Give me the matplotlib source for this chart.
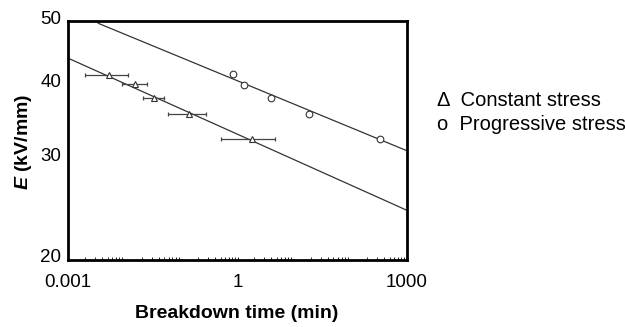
import matplotlib
matplotlib.use('Agg')
import matplotlib.pyplot as plt
import matplotlib.transforms as mtransforms
import numpy as np

plt.rcParams['font.family'] = ['Liberation Sans', 'DejaVu Sans']
plt.rcParams['mathtext.fontset'] = 'custom'
plt.rcParams['mathtext.it'] = 'Liberation Sans:italic:bold'
plt.rcParams['mathtext.rm'] = 'Liberation Sans:bold'

# constant stress (triangles) with horizontal scatter bars
t_const = [0.0053, 0.0153, 0.0327, 0.14, 1.83]
t_const_lo = [0.0020, 0.0091, 0.0208, 0.059, 0.51]
t_const_hi = [0.0116, 0.0252, 0.0498, 0.276, 4.62]
E_const = [40.6, 39.2, 37.2, 35.0, 31.8]

# progressive stress (circles)
t_prog = [0.83, 1.32, 3.88, 18.5, 340]
E_prog = [40.7, 39.15, 37.2, 35.0, 31.8]

# fitted lines (end points)
fit_prog_t = [0.0034, 1000]
fit_prog_E = [49.5, 30.4]
fit_const_t = [0.001, 1000]
fit_const_E = [43.3, 24.2]

yticks = [20, 30, 40, 50]
ytick_labels = ['20', '30', '40', '50']

fig = plt.figure(figsize=(6.25, 3.27), dpi=100)
ax = fig.add_axes([68.3 / 625, 1 - 260 / 327, (406.7 - 68.3) / 625, (260 - 20.7) / 327])

line_col = '#333333'
ax.plot(fit_prog_t, fit_prog_E, color=line_col, lw=0.9)
ax.plot(fit_const_t, fit_const_E, color=line_col, lw=0.9)

xerr = [np.array(t_const) - np.array(t_const_lo), np.array(t_const_hi) - np.array(t_const)]
ax.errorbar(t_const, E_const, xerr=xerr, fmt='none', ecolor='#444444',
            elinewidth=0.9, capsize=1.5, capthick=0.9)
ax.plot(t_const, E_const, linestyle='none', marker='^', ms=4.8, mfc='white',
        mec='#333333', mew=0.8)
ax.plot(t_prog, E_prog, linestyle='none', marker='o', ms=4.8, mfc='white',
        mec='#333333', mew=0.8)

ax.set_xscale('log')
ax.set_yscale('log')
ax.set_xlim(0.001, 1000)
ax.set_ylim(20, 50)

ax.set_xticks([0.001, 1, 1000])
ax.set_xticklabels(['0.001', '1', '1000'])
ax.xaxis.set_minor_locator(matplotlib.ticker.LogLocator(base=10, subs=np.arange(2, 10)))
ax.xaxis.set_minor_formatter(matplotlib.ticker.NullFormatter())
ax.tick_params(axis='x', which='both', direction='in', length=2, width=0.6,
               labelsize=13.5, pad=10, top=False)

ax.set_yticks(yticks)
ax.set_yticklabels(ytick_labels)
ax.yaxis.set_minor_locator(matplotlib.ticker.NullLocator())
ax.tick_params(axis='y', which='both', length=0, labelsize=13.5, pad=5)
# the end labels sit a bit above their values in the original
for lab, dy in zip(ax.get_yticklabels(), [5, 0, -2, 3]):
    shift = mtransforms.ScaledTranslation(0, dy / 100, fig.dpi_scale_trans)
    lab.set_transform(lab.get_transform() + shift)

for sp in ax.spines.values():
    sp.set_linewidth(2)

fig.text(237 / 625, 1 - 313 / 327, 'Breakdown time (min)', fontsize=14,
         fontweight='bold', ha='center', va='center')
fig.text(24 / 625, 1 - 142 / 327, '$E$ (kV/mm)', rotation=90,
         fontsize=14, fontweight='bold', ha='center', va='center')

fig.text(437 / 625, 1 - 101 / 327, '\u0394  Constant stress', fontsize=14.5,
         ha='left', va='center')
fig.text(437 / 625, 1 - 124 / 327, 'o  Progressive stress', fontsize=14.5,
         ha='left', va='center')

fig.savefig('out.png', dpi=100)
